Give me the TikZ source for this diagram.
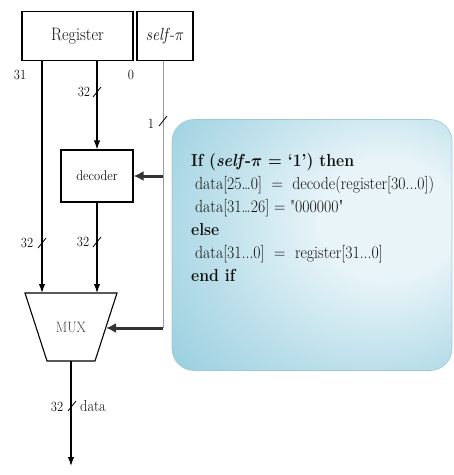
\documentclass[tikz,border=0pt]{standalone}
\usepackage{graphicx}
\usepackage{amsmath}
\newcommand{\sq}[1]{\scalebox{0.9}[1]{#1}}
\usetikzlibrary{arrows.meta}
\definecolor{txt}{HTML}{111111}
\definecolor{ctl}{HTML}{333333}
\definecolor{sel}{HTML}{9A9A9A}
\definecolor{calin}{HTML}{E8F4F8}
\definecolor{calout}{HTML}{88C7DA}
\definecolor{calrim}{HTML}{9FC8D5}
\pgfdeclareradialshading{callsh}{\pgfpoint{16bp}{6bp}}{%
  color(0bp)=(calin); color(12bp)=(calin); color(30bp)=(calin!50!calout);
  color(50bp)=(calout); color(80bp)=(calout)}
\begin{document}
\begin{tikzpicture}[x=1pt,y=-1pt,
  blk/.style={draw=black, line width=1.1pt, inner sep=0pt, text=txt},
  bus/.style={draw=black, line width=1.2pt},
  busarrow/.style={bus, -{Latex[length=9pt,width=6.5pt]}},
  selline/.style={draw=sel, line width=1pt},
  ctlarrow/.style={draw=ctl, line width=3pt, -{Latex[length=10pt,width=10pt]}},
  tick/.style={draw=black, line width=0.8pt},
  lbl/.style={inner sep=0pt, text=txt, font=\fontsize{14}{16}\selectfont},
  code/.style={anchor=base west, inner sep=0pt, text=txt, font=\fontsize{17.5}{21}\selectfont}]
\useasboundingbox (0,0) rectangle (454,475);

% callout
\node (call) [draw=calrim, line width=0.6pt, rounded corners=22pt, shading=callsh,
  minimum width=280pt, minimum height=251pt] at (312,245) {};

% blocks
\node (reg) [blk, minimum width=111pt, minimum height=49pt, font=\fontsize{18}{20}\selectfont] at (77.5,36) {\sq{Register}};
\node (self) [blk, minimum width=56pt, minimum height=49pt, font=\fontsize{17.5}{20}\selectfont] at (165,36) {\sq{\textit{self}-$\pi$}};
\node (dec) [blk, minimum width=72pt, minimum height=52pt, font=\fontsize{14}{16}\selectfont] at (97,176) {\sq{decoder}};

% MUX
\coordinate (mtl) at (25,293);
\coordinate (mtr) at (117,293);
\coordinate (mbr) at (95,361);
\coordinate (mbl) at (47,361);
\draw[line width=1.1pt] (mtl) -- (mtr) -- (mbr) -- (mbl) -- cycle;
\node (mux) [inner sep=0pt, text=txt!80, font=\fontsize{15}{17}\selectfont] at (71,327) {\sq{MUX}};

\coordinate (min1) at (42,293);
\coordinate (min2) at (97,293);
\coordinate (msel) at (106,328);
\coordinate (mout) at (71,361);
\coordinate (dout) at (71,466);
\coordinate (scorner) at (163,328);
\coordinate (sdec) at (163,176);

% connectors
\draw[busarrow] (reg.south -| min1) -- (min1);
\draw[busarrow] (reg.south -| dec.north) -- (dec.north);
\draw[busarrow] (dec.south) -- (min2);
\draw[busarrow] (mout) -- (dout);
\draw[selline] (self.south -| scorner) -- (scorner);
\draw[ctlarrow] (sdec) -- (dec.east);
\draw[ctlarrow] (scorner) -- (msel);

% bus width ticks
\draw[tick] (97,92) +(-4,5) -- +(4,-5);
\draw[tick] (163,121) +(-4,5) -- +(4,-5);
\draw[tick] (42,243) +(-4,5) -- +(4,-5);
\draw[tick] (97,242) +(-4,5) -- +(4,-5);
\draw[tick] (72,406) +(-4,5) -- +(4,-5);

% labels
\node (l31) [lbl] at (20,75) {\sq{31}};
\node (l0) [lbl] at (131,75) {\sq{0}};
\node (l32a) [lbl] at (84,92) {\sq{32}};
\node (l1) [lbl] at (151,124) {\sq{1}};
\node (l32b) [lbl] at (27,243) {\sq{32}};
\node (l32c) [lbl] at (83,242) {\sq{32}};
\node (l32d) [lbl] at (57,407) {\sq{32}};
\node (ldata) [lbl, font=\fontsize{16}{18}\selectfont] at (93,406) {\sq{data}};

% code
\node (c1) [code] at (191,166) {\sq{\bfseries If (\textit{self}-$\boldsymbol{\pi}$ = `1') then}};
\node (c2) [code] at (195,189) {\sq{data[25\ldots0]\ \ =\ \ decode(register[30...0])}};
\node (c3) [code] at (195,212) {\sq{data[31\ldots26] = \textquotedbl000000\textquotedbl}};
\node (c4) [code] at (191,235) {\sq{\bfseries else}};
\node (c5) [code] at (195,258) {\sq{data[31...0]\ \ =\ \ register[31...0]}};
\node (c6) [code] at (191,281) {\sq{\bfseries end if}};
\end{tikzpicture}
\end{document}
